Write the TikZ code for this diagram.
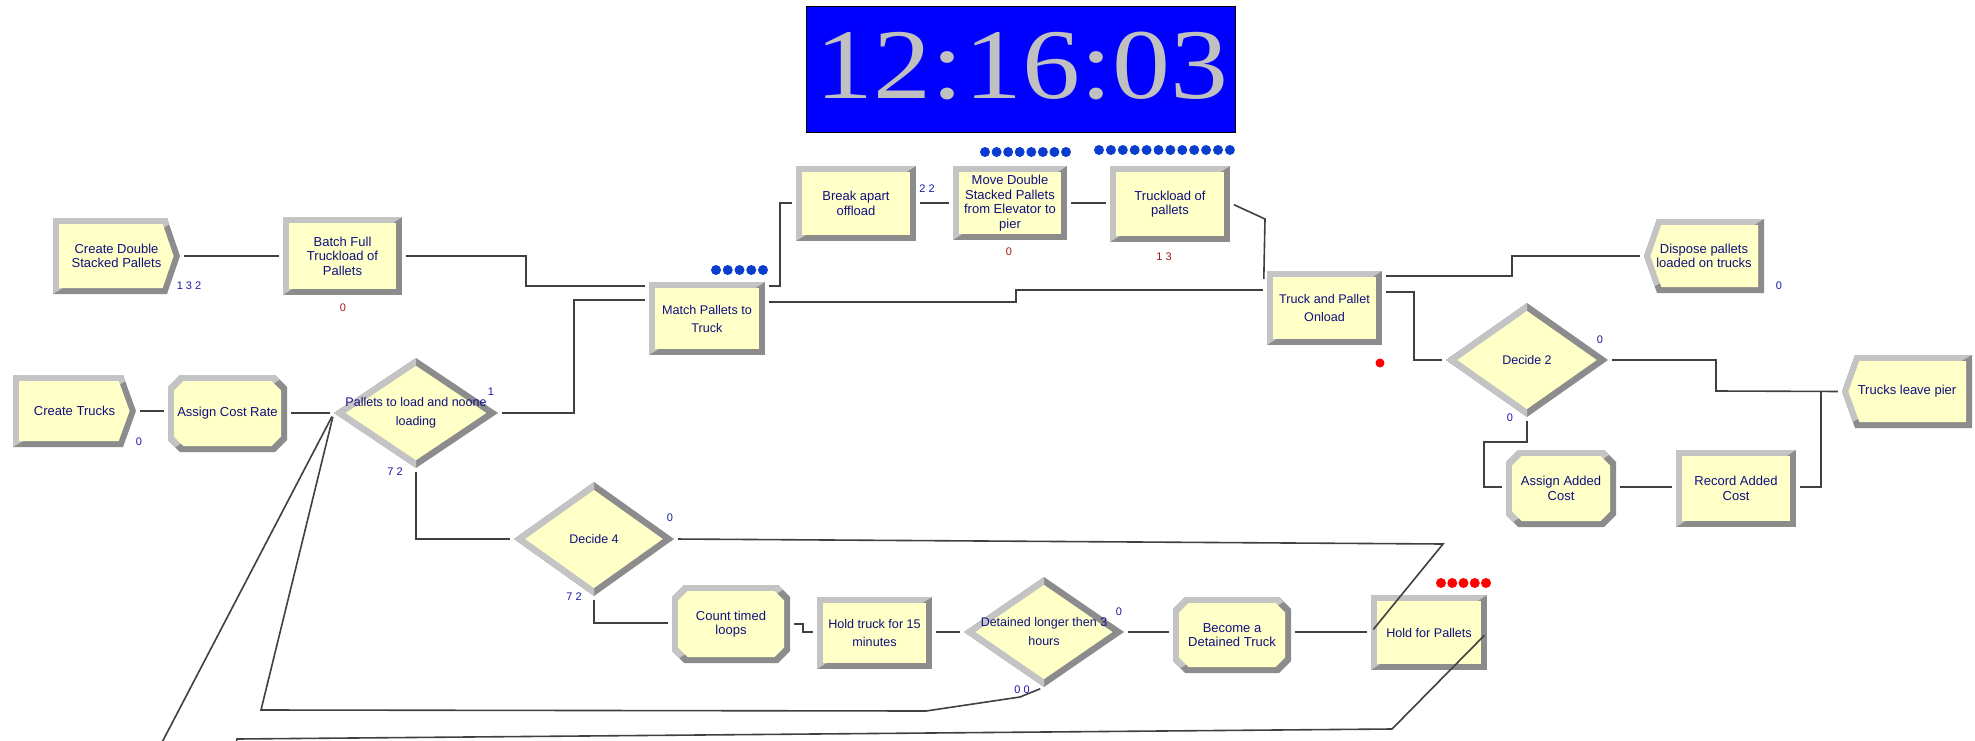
\documentclass[tikz,border=0pt]{standalone}
\usepackage{fontspec}
\usepackage{graphicx}
\setmainfont{Liberation Sans}
\newfontfamily\clockfont{Liberation Serif}
\definecolor{yel}{HTML}{FFFFC8}
\definecolor{liteg}{HTML}{C4C4C4}
\definecolor{darkg}{HTML}{8C8C8C}
\definecolor{navy}{HTML}{101080}
\definecolor{lblblue}{HTML}{1A1AA0}
\definecolor{lblred}{HTML}{A01818}
\definecolor{lineg}{HTML}{404040}
\definecolor{qblue}{HTML}{0A3CD0}
\definecolor{qred}{HTML}{FF0000}
\definecolor{clockblue}{HTML}{0000FF}
\definecolor{clockgray}{HTML}{C0C0C0}
\tikzset{
 modtext/.style={inner sep=0pt, align=center, text=navy, font=\fontsize{13}{14.5}\selectfont},
 proctext/.style={modtext, font=\fontsize{12.6}{18}\selectfont},
 dectext/.style={modtext, font=\fontsize{12.5}{19}\selectfont},
 lblb/.style={inner sep=0pt, text=lblblue, font=\fontsize{11}{11}\selectfont},
 lblr/.style={lblb, text=lblred},
 conn/.style={draw=lineg, line width=1.6pt, shorten <=4pt, shorten >=4pt},
}
% rectangle module
\newcommand\procbox[7][modtext]{%
 \fill[darkg] (#3,#4) rectangle (#5,#6);
 \begin{scope}\clip (#3,#6) -- (#5,#4) -- (#3,#4) -- cycle;
  \fill[liteg] (#3,#4) rectangle (#5,#6);\end{scope}
 \fill[yel] (#3+6,#4+6) rectangle (#5-6,#6-6);
 \node[#1, minimum width={(#5-#3)*1pt}, minimum height={(#6-#4)*1pt}] (#2) at ({(#3+#5)/2},{(#4+#6)/2}) {#7};
}
% octagon module
\newcommand\octfill[6]{\fill[#1] (#2+#6,#3) -- (#4-#6,#3) -- (#4,#3+#6) -- (#4,#5-#6) -- (#4-#6,#5) -- (#2+#6,#5) -- (#2,#5-#6) -- (#2,#3+#6) -- cycle;}
\newcommand\octbox[7][modtext]{%
 \octfill{darkg}{#3}{#4}{#5}{#6}{12}
 \begin{scope}\clip (#3,#6) -- (#5,#4) -- (#3,#4) -- cycle; \octfill{liteg}{#3}{#4}{#5}{#6}{12}\end{scope}
 \octfill{yel}{#3+6}{#4+6}{#5-6}{#6-6}{9.5}
 \node[#1, minimum width={(#5-#3)*1pt}, minimum height={(#6-#4)*1pt}] (#2) at ({(#3+#5)/2},{(#4+#6)/2}) {#7};
}
% create module (pointed right)
\newcommand\crfill[6]{\fill[#1] (#2,#3) -- (#6,#3) -- (#4,{(#3+#5)/2}) -- (#6,#5) -- (#2,#5) -- cycle;}
\newcommand\crbox[7][modtext]{%
 \crfill{darkg}{#3}{#4}{#5}{#6}{#5-13}
 \begin{scope}\clip (#3,#6) -- (#5,#4) -- (#3,#4) -- cycle; \crfill{liteg}{#3}{#4}{#5}{#6}{#5-13}\end{scope}
 \crfill{yel}{#3+6}{#4+6}{#5-6.4}{#6-6}{#5-17.3}
 \node[#1, minimum width={(#5-#3)*1pt}, minimum height={(#6-#4)*1pt}] (#2) at ({(#3+#5)/2},{(#4+#6)/2}) {#7};
}
% dispose module (pointed left)
\newcommand\dpfill[6]{\fill[#1] (#2,{(#3+#5)/2}) -- (#6,#3) -- (#4,#3) -- (#4,#5) -- (#6,#5) -- cycle;}
\newcommand\dpbox[7][modtext]{%
 \dpfill{darkg}{#3}{#4}{#5}{#6}{#3+13}
 \begin{scope}\clip (#3,#6) -- (#5,#4) -- (#3,#4) -- cycle; \dpfill{liteg}{#3}{#4}{#5}{#6}{#3+13}\end{scope}
 \dpfill{yel}{#3+6.4}{#4+6}{#5-6}{#6-6}{#3+17.3}
 \node[#1, minimum width={(#5-#3)*1pt}, minimum height={(#6-#4)*1pt}] (#2) at ({(#3+#5)/2},{(#4+#6)/2}) {#7};
}
% decide module (diamond): name cx cy halfwidth halfheight text
\newcommand\decfill[5]{\fill[#1] (#2-#4,#3) -- (#2,#3-#5) -- (#2+#4,#3) -- (#2,#3+#5) -- cycle;}
\newcommand\decbox[7][dectext]{%
 \decfill{darkg}{#3}{#4}{#5}{#6}
 \begin{scope}\clip (#3-#5-2,#4-#6-2) rectangle (#3,#4+#6+2); \decfill{liteg}{#3}{#4}{#5}{#6}\end{scope}
 \pgfmathsetmacro\decia{#5-6.5*veclen(#5,#6)/#6}
 \pgfmathsetmacro\deciha{#6-6.5*veclen(#5,#6)/#5}
 \decfill{yel}{#3}{#4}{\decia}{\deciha}
 \node[#1, minimum width={2*#5*1pt}, minimum height={2*#6*1pt}] (#2) at (#3,#4) {#7};
}
\begin{document}
\begin{tikzpicture}[x=1pt,y=-1pt]
\useasboundingbox (0,0) rectangle (1975,741);
\fill[white] (0,0) rectangle (1975,741);
\clip (0,0) rectangle (1975,741);

% clock
\node[draw=black, line width=1pt, fill=clockblue, minimum width=429pt, minimum height=126pt, inner sep=0pt] (clock) at (1020.5,70) {};
\node[text=clockgray, inner sep=0pt, font=\clockfont\fontsize{100}{100}\selectfont] (clocktext) at (1022,66) {\scalebox{1.16}[1]{12:16:03}};

% modules
\crbox{create1}{53}{218}{180}{294}{Create Double\\Stacked Pallets}
\procbox{batch}{283}{217}{402}{295}{Batch Full\\Truckload of\\Pallets}
\procbox[proctext]{match}{649}{282}{765}{355}{Match Pallets to\\Truck}
\procbox{breakap}{796}{166}{916}{241}{Break apart\\offload}
\procbox{move}{953}{166}{1067}{240}{Move Double\\Stacked Pallets\\from Elevator to\\pier}
\procbox{truckload}{1110}{166}{1230}{242}{Truckload of\\pallets}
\procbox[proctext]{tpo}{1267}{271}{1382}{345}{Truck and Pallet\\Onload}
\dpbox{dispose}{1644}{219}{1764}{293}{Dispose pallets\\loaded on trucks}
\decbox{decide2}{1527}{360}{81}{57}{Decide 2}
\dpbox{trucksleave}{1842}{355}{1972}{428}{Trucks leave pier}
\octbox{assignadd}{1506}{450}{1616}{527}{Assign Added\\Cost}
\procbox{record}{1676}{450}{1796}{527}{Record Added\\Cost}
\crbox{createtr}{13}{375}{136}{447}{Create Trucks}
\octbox{assigncr}{168}{375}{287}{452}{Assign Cost Rate}
\decbox{pallets}{416}{413}{82}{55}{Pallets to load and noone\\loading}
\decbox{decide4}{594}{539}{80}{57}{Decide 4}
\octbox{count}{672}{585}{790}{663}{Count timed\\loops}
\procbox[proctext]{holdtruck}{817}{597}{932}{669}{Hold truck for 15\\minutes}
\decbox{detained}{1044}{632}{80}{55}{Detained longer then 3\\hours}
\octbox{become}{1173}{597}{1291}{673}{Become a\\Detained Truck}
\procbox[proctext]{holdpal}{1371}{595}{1487}{670}{Hold for Pallets}

% queue markers
\foreach \i in {0,...,4} \fill[qblue] (716+\i*11.75,270) circle (5);
\foreach \i in {0,...,7} \fill[qblue] (985+\i*11.57,152) circle (5);
\foreach \i in {0,...,11} \fill[qblue] (1099+\i*11.9,150) circle (5);
\foreach \i in {0,...,4} \fill[qred] (1441+\i*11.25,583) circle (5);
\fill[qred] (1380,363) circle (4.5);

% counters
\node[lblb] (n1) at (189,286) {1 3 2};
\node[lblr] (n2) at (343,308) {0};
\node[lblb] (n3) at (927,189) {2 2};
\node[lblr] (n4) at (1009,252) {0};
\node[lblr] (n5) at (1164,257) {1 3};
\node[lblb] (n6) at (1779,286) {0};
\node[lblb] (n7) at (1600,340) {0};
\node[lblb] (n8) at (1510,418) {0};
\node[lblb] (n9) at (139,442) {0};
\node[lblb] (n10) at (491,392) {1};
\node[lblb] (n11) at (395,472) {7 2};
\node[lblb] (n12) at (670,518) {0};
\node[lblb] (n13) at (574,597) {7 2};
\node[lblb] (n14) at (1119,612) {0};
\node[lblb] (n15) at (1022,690) {0 0};

% connectors
\draw[conn] (create1.east) -- (batch.west);
\draw[conn] (batch.east) -- (526,256) -- (526,286) -- (match.west |- 0,286);
\draw[conn] (match.east |- 0,286) -- (780,286) -- (780,203) -- (breakap.west |- 0,203);
\draw[conn] (breakap.east |- 0,203) -- (move.west |- 0,203);
\draw[conn] (move.east |- 0,203) -- (truckload.west |- 0,203);
\draw[conn, shorten >=0pt] (truckload.east |- 0,203) -- (1265,219) -- ([shift={(-3,8)}]tpo.north west);
\draw[conn] (match.east |- 0,302) -- (1016,302) -- (1016,290) -- (tpo.west |- 0,290);
\draw[conn] (tpo.east |- 0,276) -- (1512,276) -- (1512,256) -- (dispose.west);
\draw[conn] (tpo.east |- 0,292) -- (1414,292) -- (1414,360) -- (decide2.west);
\draw[conn] (decide2.east) -- (1716,360) -- (1716,391) -- (trucksleave.west);
\draw[conn] (decide2.south) -- (1527,442) -- (1484,442) -- (1484,487) -- (assignadd.west |- 0,487);
\draw[conn] (assignadd.east |- 0,487) -- (record.west |- 0,487);
\draw[conn, shorten >=0pt] (record.east |- 0,487) -- (1821,487) -- (1821,391);
\draw[conn] (createtr.east |- 0,411) -- (assigncr.west |- 0,411);
\draw[conn] (assigncr.east |- 0,413) -- (pallets.west);
\draw[conn] (pallets.east) -- (574,413) -- (574,300) -- (match.west |- 0,300);
\draw[conn] (pallets.south) -- (416,539) -- (decide4.west);
\draw[conn] (decide4.east) -- (1443,544) -- (holdpal.west);
\draw[conn] (decide4.south) -- (594,623) -- (count.west |- 0,623);
\draw[conn] (count.east |- 0,624) -- (803,624) -- (803,632) -- (holdtruck.west |- 0,632);
\draw[conn] (holdtruck.east |- 0,632) -- (detained.west);
\draw[conn] (detained.east) -- (become.west |- 0,632);
\draw[conn] (become.east |- 0,632) -- (holdpal.west |- 0,632);
\draw[conn] (holdpal.east) -- (1392,729) -- (237,739) -- (230,770) -- (145,775) -- (pallets.west);
\draw[conn] (detained.south) -- (1020,697) -- (926,711) -- (261,710) -- (pallets.west);
\end{tikzpicture}
\end{document}
